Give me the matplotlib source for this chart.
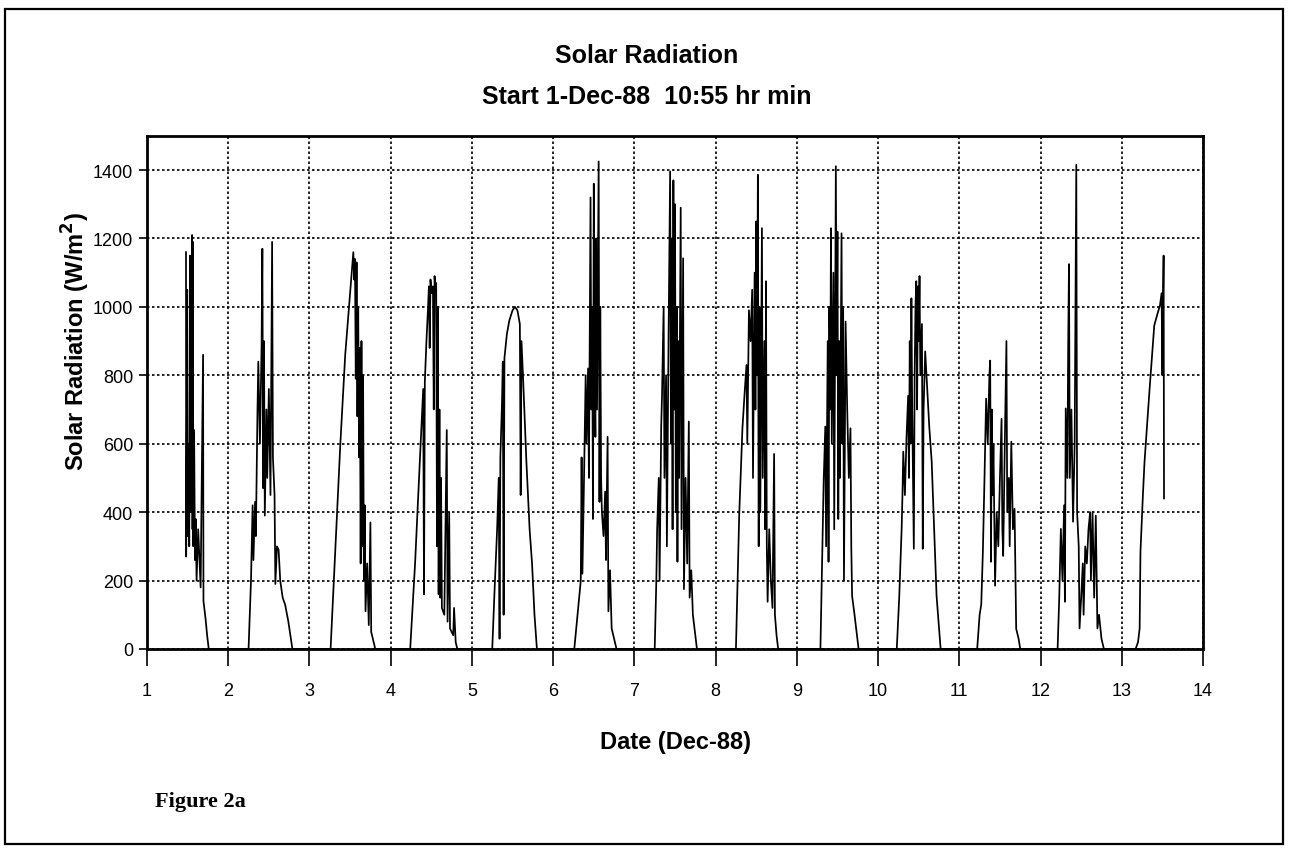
import matplotlib
matplotlib.use("Agg")
import matplotlib.pyplot as plt
from matplotlib.patches import Rectangle

# solar radiation trace: (day of Dec-88, W/m2)
day01 = [(1.48, 1160), (1.482, 270), (1.49, 650), (1.495, 1050), (1.50, 330), (1.51, 600),
         (1.52, 300), (1.53, 1150), (1.54, 400), (1.55, 1000), (1.555, 1210), (1.56, 350),
         (1.565, 1190), (1.57, 300), (1.58, 640), (1.59, 260), (1.60, 380), (1.61, 200),
         (1.63, 350), (1.66, 180), (1.69, 860), (1.695, 140), (1.72, 90), (1.74, 40), (1.76, 0)]
day02 = [(2.25, 0), (2.28, 200), (2.30, 420), (2.31, 260), (2.33, 430), (2.34, 330), (2.36, 700),
         (2.37, 840), (2.39, 600), (2.41, 880), (2.42, 1170), (2.43, 470), (2.44, 900), (2.45, 390),
         (2.47, 700), (2.48, 500), (2.50, 760), (2.52, 450), (2.54, 1190), (2.55, 560), (2.57, 450),
         (2.58, 190), (2.60, 300), (2.62, 290), (2.64, 200), (2.67, 150), (2.70, 130), (2.74, 80),
         (2.79, 0)]
day03 = [(3.26, 0), (3.32, 300), (3.38, 600), (3.44, 860), (3.48, 980), (3.50, 1040), (3.52, 1100),
         (3.54, 1160), (3.55, 1080), (3.56, 1140), (3.57, 790), (3.58, 1130), (3.59, 680),
         (3.60, 1000), (3.61, 560), (3.62, 880), (3.63, 250), (3.64, 900), (3.65, 300), (3.66, 800),
         (3.67, 200), (3.68, 420), (3.69, 110), (3.71, 250), (3.73, 70), (3.75, 370), (3.76, 50),
         (3.79, 20), (3.81, 0)]
day04 = [(4.24, 0), (4.30, 250), (4.36, 560), (4.40, 760), (4.41, 160), (4.42, 780), (4.44, 900),
         (4.46, 1000), (4.47, 1060), (4.48, 880), (4.49, 1080), (4.50, 1040), (4.52, 1060),
         (4.53, 700), (4.54, 1090), (4.55, 1050), (4.56, 1070), (4.57, 300), (4.58, 1000),
         (4.59, 160), (4.60, 700), (4.61, 150), (4.62, 500), (4.63, 120), (4.66, 100), (4.69, 640),
         (4.70, 80), (4.72, 400), (4.73, 60), (4.77, 40), (4.78, 120), (4.80, 20), (4.82, 0)]
day05 = [(5.25, 0), (5.28, 180), (5.31, 350), (5.33, 500), (5.34, 30), (5.35, 560), (5.37, 720),
         (5.38, 840), (5.39, 100), (5.40, 850), (5.43, 920), (5.46, 960), (5.50, 990), (5.53, 1000),
         (5.56, 990), (5.59, 950), (5.60, 450), (5.61, 900), (5.63, 790), (5.67, 550), (5.71, 350),
         (5.74, 250), (5.77, 100), (5.80, 0)]
day06 = [(6.26, 0), (6.30, 100), (6.34, 200), (6.35, 560), (6.36, 220), (6.38, 500), (6.40, 800),
         (6.41, 600), (6.43, 820), (6.44, 500), (6.46, 1320), (6.47, 700), (6.48, 1000), (6.49, 380),
         (6.50, 1360), (6.51, 800), (6.52, 620), (6.53, 1200), (6.54, 700), (6.56, 1425), (6.57, 430),
         (6.58, 1000), (6.59, 500), (6.60, 400), (6.62, 330), (6.64, 460), (6.65, 260), (6.67, 620),
         (6.68, 110), (6.70, 230), (6.72, 60), (6.75, 30), (6.78, 0)]
day07 = [(7.25, 0), (7.27, 200), (7.28, 350), (7.30, 500), (7.31, 200), (7.33, 650), (7.34, 740),
         (7.36, 1000), (7.37, 500), (7.39, 800), (7.40, 300), (7.42, 900), (7.44, 1396), (7.45, 600),
         (7.46, 1200), (7.47, 350), (7.48, 1370), (7.49, 700), (7.50, 1300), (7.51, 400),
         (7.52, 1000), (7.53, 255), (7.54, 900), (7.55, 500), (7.57, 1290), (7.58, 350),
         (7.60, 1142), (7.61, 175), (7.63, 500), (7.65, 250), (7.67, 665), (7.68, 150), (7.70, 230),
         (7.72, 100), (7.74, 60), (7.77, 0)]
day08 = [(8.25, 0), (8.27, 200), (8.29, 390), (8.31, 520), (8.33, 645), (8.36, 760), (8.38, 830),
         (8.39, 600), (8.41, 990), (8.43, 900), (8.45, 1050), (8.46, 500), (8.48, 1100), (8.49, 700),
         (8.50, 1250), (8.51, 800), (8.52, 1386), (8.53, 300), (8.54, 1000), (8.55, 400),
         (8.57, 1230), (8.58, 500), (8.60, 900), (8.61, 350), (8.62, 1075), (8.63, 300), (8.64, 138),
         (8.66, 350), (8.68, 200), (8.70, 120), (8.72, 570), (8.73, 100), (8.75, 40), (8.77, 0)]
day09 = [(9.29, 0), (9.31, 250), (9.33, 489), (9.35, 650), (9.36, 300), (9.38, 900), (9.39, 255),
         (9.40, 1000), (9.41, 700), (9.42, 1230), (9.43, 600), (9.45, 1100), (9.46, 350),
         (9.48, 1411), (9.49, 800), (9.50, 1220), (9.51, 380), (9.52, 900), (9.53, 500),
         (9.55, 1215), (9.56, 600), (9.57, 1000), (9.58, 200), (9.60, 957), (9.62, 700), (9.64, 500),
         (9.66, 645), (9.67, 300), (9.68, 155), (9.71, 100), (9.74, 40), (9.76, 0)]
day10 = [(10.23, 0), (10.26, 150), (10.29, 351), (10.30, 450), (10.31, 577), (10.33, 450),
         (10.35, 620), (10.37, 740), (10.38, 500), (10.39, 900), (10.40, 600), (10.41, 1025),
         (10.42, 700), (10.44, 293), (10.45, 800), (10.46, 1000), (10.47, 1075), (10.48, 700),
         (10.49, 1060), (10.50, 900), (10.51, 1090), (10.52, 800), (10.54, 950), (10.55, 293),
         (10.56, 700), (10.58, 870), (10.60, 780), (10.63, 650), (10.66, 547), (10.69, 350),
         (10.72, 155), (10.77, 0)]
day11 = [(11.22, 0), (11.25, 100), (11.27, 130), (11.29, 284), (11.31, 500), (11.33, 732),
         (11.35, 600), (11.37, 800), (11.38, 843), (11.39, 255), (11.40, 700), (11.41, 450),
         (11.42, 600), (11.44, 185), (11.46, 400), (11.48, 300), (11.50, 500), (11.52, 673),
         (11.53, 350), (11.54, 272), (11.56, 600), (11.58, 900), (11.59, 400), (11.61, 500),
         (11.62, 300), (11.64, 606), (11.66, 350), (11.68, 410), (11.70, 59), (11.73, 30), (11.75, 0)]
day12 = [(12.21, 0), (12.23, 150), (12.25, 351), (12.27, 200), (12.29, 420), (12.30, 138),
         (12.31, 703), (12.33, 500), (12.34, 878), (12.35, 1125), (12.36, 500), (12.38, 700),
         (12.40, 372), (12.42, 600), (12.44, 1415), (12.45, 400), (12.47, 300), (12.48, 60),
         (12.50, 150), (12.52, 250), (12.53, 100), (12.55, 300), (12.57, 250), (12.59, 350),
         (12.61, 400), (12.62, 200), (12.64, 400), (12.66, 150), (12.68, 390), (12.70, 60),
         (12.72, 100), (12.75, 30), (12.78, 0)]
day13 = [(13.17, 0), (13.20, 20), (13.22, 60), (13.23, 284), (13.26, 450), (13.28, 547),
         (13.31, 650), (13.34, 752), (13.37, 850), (13.40, 946), (13.44, 980), (13.47, 1004),
         (13.49, 1040), (13.50, 800), (13.51, 1060), (13.515, 1150), (13.52, 440)]

days = [day01, day02, day03, day04, day05, day06, day07,
        day08, day09, day10, day11, day12, day13]

xticks = list(range(1, 15))
yticks = list(range(0, 1401, 200))

t = [p[0] for d in days for p in d]
w = [p[1] for d in days for p in d]

fig = plt.figure(figsize=(12.93, 8.53), dpi=100)
fig.patch.set_facecolor("white")

# scanned page frame
fig.patches.append(Rectangle((0.004, 0.009), 0.988, 0.979, transform=fig.transFigure,
                             fill=False, edgecolor="black", linewidth=1.6))

ax = fig.add_axes([0.1137, 0.238, 0.8167, 0.6016])
ax.plot(t, w, color="black", linewidth=1.25)

ax.set_xlim(1, 14)
ax.set_ylim(0, 1500)
ax.set_xticks(xticks)
ax.set_yticks(yticks)
ax.grid(True, color="black", linestyle=(0, (1.5, 1.5)), linewidth=1.2)
ax.set_axisbelow(True)
for s in ax.spines.values():
    s.set_linewidth(2.0)

ax.tick_params(axis="x", direction="out", length=12, width=1.2, pad=12, labelsize=13)
ax.tick_params(axis="y", direction="out", length=6, width=1.2, pad=4, labelsize=13)
for lab in ax.get_xticklabels() + ax.get_yticklabels():
    lab.set_family("Liberation Sans")

ax.set_xlabel("Date (Dec-88)", fontsize=17, fontweight="bold", family="Liberation Sans",
              labelpad=22)
ax.set_ylabel("Solar Radiation (W/m$^\\mathbf{2}$)", fontsize=17, fontweight="bold",
              family="Liberation Sans", labelpad=4)
ax.yaxis.set_label_coords(-0.052, 0.6)

fig.text(0.5, 0.934, "Solar Radiation", ha="center", va="center", fontsize=18,
         fontweight="bold", family="Liberation Sans")
fig.text(0.5, 0.886, "Start 1-Dec-88  10:55 hr min", ha="center", va="center", fontsize=18,
         fontweight="bold", family="Liberation Sans")
fig.text(0.12, 0.06, "Figure 2a", ha="left", va="center", fontsize=16, fontweight="bold",
         family="Liberation Serif")

fig.savefig("out.png", dpi=100)
